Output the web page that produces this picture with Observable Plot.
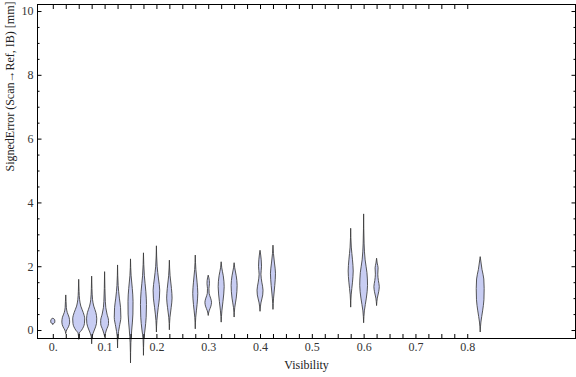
<!DOCTYPE html>
<html><head><meta charset="utf-8">
<script src="https://cdn.jsdelivr.net/npm/d3@7"></script>
<script src="https://cdn.jsdelivr.net/npm/@observablehq/plot@0.6"></script>
<style>body{margin:0;background:#fff}</style>
</head><body><div id="chart"></div>
<script>
// Violin positions (Visibility bins)
const visibility = [0, 0.025, 0.05, 0.075, 0.1, 0.125, 0.15, 0.175, 0.2, 0.225, 0.275, 0.3, 0.325, 0.35, 0.4, 0.425, 0.575, 0.6, 0.625, 0.825];
// SignedError knot values (mm) along each violin, bottom to top
const errorKnots = [
  [0.19, 0.23, 0.28, 0.33, 0.37],
  [-0.1, 0, 0.1, 0.25, 0.4, 0.55, 0.7, 0.9, 1.1],
  [-0.28, -0.1, 0, 0.2, 0.35, 0.55, 0.75, 0.95, 1.2, 1.59],
  [-0.42, -0.2, 0, 0.2, 0.35, 0.55, 0.75, 0.95, 1.3, 1.69],
  [-0.19, 0, 0.2, 0.3, 0.5, 0.7, 0.9, 1.3, 1.83],
  [-0.55, -0.2, 0.1, 0.4, 0.7, 1.0, 1.4, 2.04],
  [-1.02, -0.4, 0, 0.5, 0.9, 1.3, 1.7, 2.23],
  [-0.78, -0.3, 0, 0.4, 0.8, 1.2, 1.7, 2.42],
  [-0.05, 0.3, 0.7, 1.0, 1.25, 1.6, 2.0, 2.64],
  [0.02, 0.4, 0.7, 1.0, 1.3, 1.7, 2.19],
  [0.05, 0.4, 0.8, 1.15, 1.5, 1.9, 2.35],
  [0.47, 0.6, 0.75, 0.87, 1.0, 1.15, 1.3, 1.45, 1.55, 1.72],
  [0.26, 0.6, 0.9, 1.36, 1.7, 1.95, 2.14],
  [0.42, 0.7, 1.0, 1.4, 1.7, 1.95, 2.11],
  [0.6, 0.85, 1.1, 1.25, 1.5, 1.75, 2.0, 2.2, 2.5],
  [0.66, 1.0, 1.4, 1.78, 2.1, 2.4, 2.66],
  [0.73, 1.1, 1.5, 1.85, 2.2, 2.6, 3.19],
  [0.24, 0.6, 1.0, 1.4, 1.8, 2.2, 2.7, 3.64],
  [0.78, 1.0, 1.2, 1.36, 1.55, 1.75, 1.95, 2.1, 2.25],
  [-0.05, 0.25, 0.6, 0.95, 1.3, 1.6, 1.9, 2.3]
];
// Relative density at each knot
const density = [
  [0, 0.3, 0.35, 0.3, 0],
  [0, 0.15, 0.45, 0.65, 0.55, 0.25, 0.1, 0.05, 0],
  [0, 0.1, 0.5, 0.95, 1, 0.75, 0.35, 0.15, 0.06, 0],
  [0, 0.08, 0.45, 0.8, 0.85, 0.7, 0.35, 0.15, 0.05, 0],
  [0, 0.3, 0.65, 0.65, 0.4, 0.2, 0.12, 0.05, 0],
  [0, 0.06, 0.3, 0.55, 0.5, 0.3, 0.1, 0],
  [0, 0.06, 0.2, 0.4, 0.42, 0.3, 0.1, 0],
  [0, 0.06, 0.25, 0.45, 0.5, 0.4, 0.15, 0],
  [0, 0.08, 0.3, 0.5, 0.55, 0.35, 0.12, 0],
  [0, 0.1, 0.3, 0.45, 0.35, 0.12, 0],
  [0, 0.08, 0.3, 0.42, 0.3, 0.1, 0],
  [0, 0.15, 0.45, 0.55, 0.4, 0.15, 0.12, 0.2, 0.18, 0],
  [0, 0.12, 0.3, 0.5, 0.35, 0.1, 0],
  [0, 0.1, 0.35, 0.5, 0.35, 0.1, 0],
  [0, 0.15, 0.45, 0.5, 0.3, 0.15, 0.25, 0.2, 0],
  [0, 0.1, 0.3, 0.42, 0.25, 0.08, 0],
  [0, 0.08, 0.3, 0.42, 0.3, 0.1, 0],
  [0, 0.12, 0.45, 0.65, 0.55, 0.25, 0.08, 0],
  [0, 0.12, 0.35, 0.45, 0.3, 0.2, 0.25, 0.1, 0],
  [0, 0.12, 0.4, 0.62, 0.66, 0.6, 0.3, 0]
];
const xTickValues = [0, 0.1, 0.2, 0.3, 0.4, 0.5, 0.6, 0.7, 0.8];
const xTickLabels = ["0.", "0.1", "0.2", "0.3", "0.4", "0.5", "0.6", "0.7", "0.8"];
const xMinorTicks = d3.range(0, 33).map(i => i * 0.025);
const yTickValues = [0, 2, 4, 6, 8, 10];
const yTickLabels = ["0", "2", "4", "6", "8", "10"];
const yMinorTicks = d3.range(0, 21).map(i => i * 0.5).filter(v => v % 2 !== 0);

const W = 0.0116; // half-width (visibility units) for density 1
const rows = visibility.flatMap((v, i) => errorKnots[i].map((y, j) => ({v, y, d: density[i][j]})));

const noText = () => "";
const tickOpts = {tickFormat: noText, label: null, stroke: "#000"};
const chart = Plot.plot({
  width: 576, height: 377,
  marginLeft: 37, marginRight: 1, marginTop: 4, marginBottom: 39,
  style: {fontFamily: "Liberation Serif", fontSize: "12px", background: "#fff"},
  x: {domain: [-0.0305, 1.008]},
  y: {domain: [-0.25, 10.22]},
  marks: [
    Plot.areaX(rows, {
      y: "y", z: "v",
      x1: r => r.v - r.d * W, x2: r => r.v + r.d * W,
      curve: "monotone-y",
      fill: "#c8cdf3", stroke: "#3a3a3a", strokeWidth: 1, strokeOpacity: 0.85
    }),
    Plot.frame({stroke: "#000"}),
    Plot.axisX(xMinorTicks, {anchor: "bottom", tickSize: -4, ...tickOpts}),
    Plot.axisX(xMinorTicks, {anchor: "top", tickSize: -4, ...tickOpts}),
    Plot.axisX(xTickValues, {anchor: "bottom", tickSize: 0, tickPadding: 4, fontSize: 12, fill: "#333",
      tickFormat: d => xTickLabels[xTickValues.indexOf(d)], label: null}),
    Plot.axisY(yTickValues, {anchor: "left", tickSize: -4.5, ...tickOpts}),
    Plot.axisY(yMinorTicks, {anchor: "left", tickSize: -2.5, ...tickOpts}),
    Plot.axisY(yTickValues, {anchor: "right", tickSize: -4.5, ...tickOpts}),
    Plot.axisY(yMinorTicks, {anchor: "right", tickSize: -2.5, ...tickOpts}),
    Plot.axisY(yTickValues, {anchor: "left", tickSize: 0, tickPadding: 4, fontSize: 12, fill: "#333",
      tickFormat: d => yTickLabels[yTickValues.indexOf(d)], label: null}),
    Plot.text(["Visibility"], {frameAnchor: "bottom", dy: 30, fontSize: 12, fill: "#222"}),
    Plot.text(["SignedError (Scan\u2192Ref, IB) [mm]"], {frameAnchor: "left", rotate: -90, dx: -27, fontSize: 12, fill: "#222"})
  ]
});
document.getElementById("chart").appendChild(chart);
</script>
</body></html>
